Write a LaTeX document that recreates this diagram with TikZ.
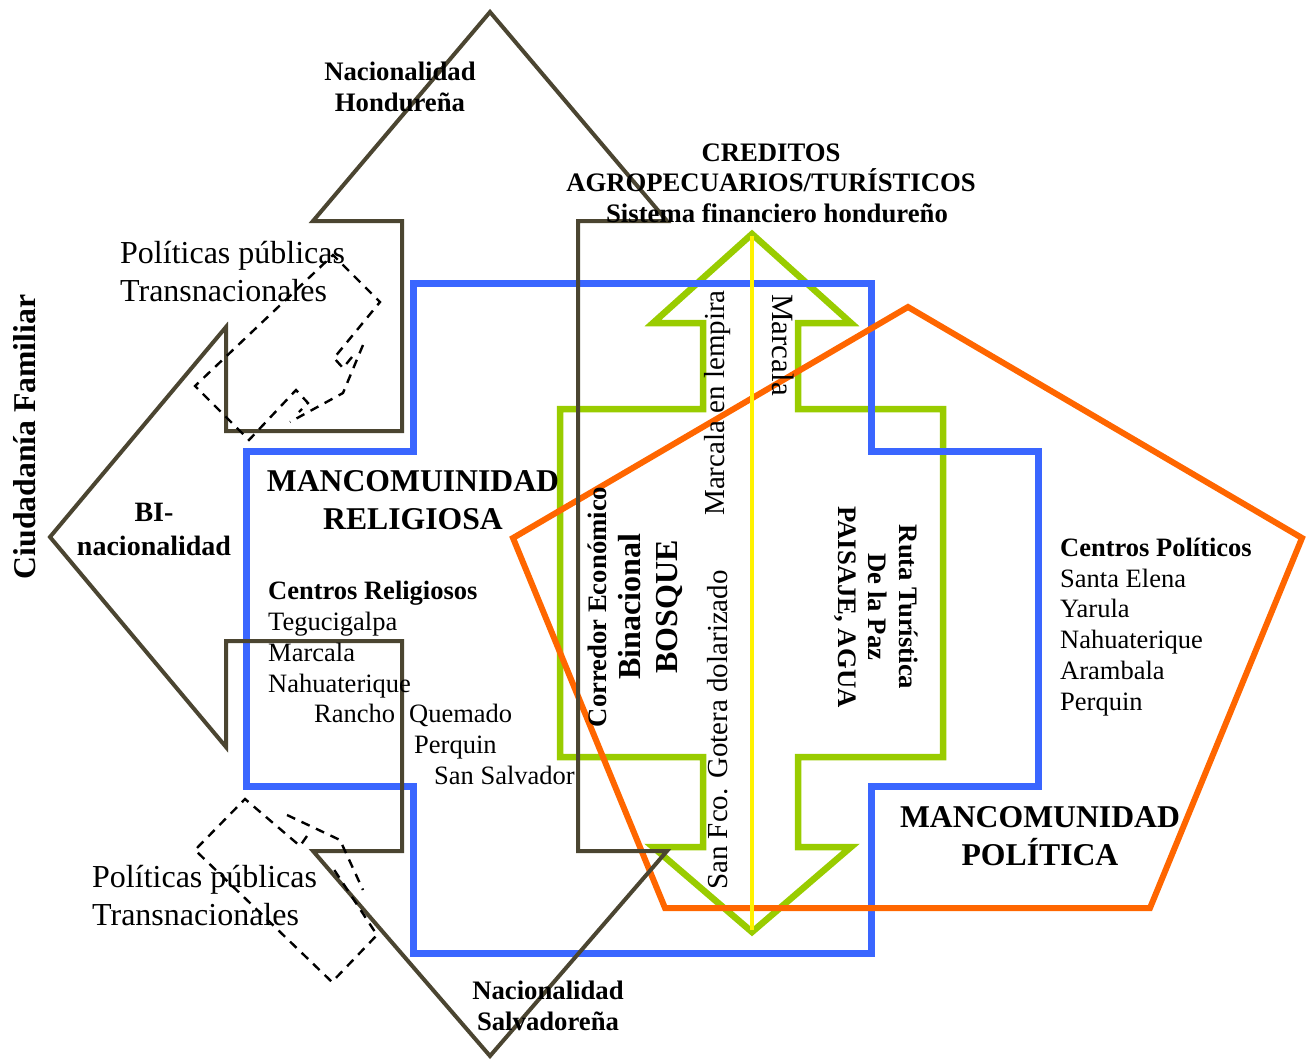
\documentclass[tikz,border=0pt]{standalone}
\usepackage{fontspec}
\setmainfont{Liberation Serif}
\definecolor{nacion}{HTML}{4B4531}
\definecolor{relig}{HTML}{3A66FF}
\definecolor{corredor}{HTML}{99CC00}
\definecolor{polit}{HTML}{FF6600}
\tikzset{nacionline/.style={draw=nacion,line width=4pt},religline/.style={draw=relig,line width=7pt},corrline/.style={draw=corredor,line width=6.5pt},politline/.style={draw=polit,line width=6pt},ejeline/.style={draw=yellow,line width=4.5pt},transline/.style={draw=black,line width=2.4pt,dash pattern=on 9pt off 7pt},txt/.style={inner sep=0pt,font=\fontsize{26.5}{30.8}\selectfont},btxt/.style={inner sep=0pt,font=\fontsize{26.7}{30.5}\selectfont\bfseries},bigtxt/.style={inner sep=0pt,font=\fontsize{31.7}{38}\selectfont\bfseries},poltxt/.style={inner sep=0pt,font=\fontsize{32}{38}\selectfont}}

\begin{document}
\begin{tikzpicture}[x=1pt,y=-1pt]
\useasboundingbox (0,0) rectangle (1307,1060);
% corredor binacional (flecha doble)
\draw[corrline] (752,234) -- (851,323) -- (798,323) -- (798,409) -- (943,409) -- (943,757) -- (798,757) -- (798,847) -- (851,847) -- (752,932) -- (653,847) -- (703,847) -- (703,757) -- (560,757) -- (560,409) -- (703,409) -- (703,323) -- (653,323) -- cycle;
% mancomunidades
\draw[religline] (413,283) -- (871,283) -- (871,451) -- (1038,451) -- (1038,786) -- (871,786) -- (871,953) -- (413,953) -- (413,786) -- (246,786) -- (246,451) -- (413,451) -- cycle;
\draw[politline] (908,307) -- (1302,538) -- (1150,908) -- (665,908) -- (513,538) -- cycle;
\draw[ejeline] (752,236) -- (752,930);
% nacionalidades
\draw[nacionline] (50,537) -- (226,327) -- (226,431) -- (402,431) -- (402,221) -- (313,221) -- (490,12) -- (667,221) -- (578,221) -- (578,851) -- (667,851) -- (490,1056) -- (313,851) -- (402,851) -- (402,641) -- (226,641) -- (226,747) -- cycle;
% politicas publicas
\draw[transline] (352,357) -- (343,368) -- (334,358) -- (380,302) -- (333,255) -- (195,386) -- (249,440) -- (296,390) -- (308,403) -- (299,412);\draw[transline] (363,345) -- (343,393) -- (290,422);
\draw[transline] (307,836) -- (300,846) -- (245,799) -- (195,850) -- (332,982) -- (377,935) -- (333,868);\draw[transline] (287,815) -- (340,840) -- (363,890);
% textos
\node[btxt,align=center] (hond) at (400,87) {Nacionalidad\\Hondureña};
\node[btxt,align=center] (cred) at (771,183) {CREDITOS\\AGROPECUARIOS/TURÍSTICOS\\\hspace*{12pt}Sistema financiero hondureño};
\node[poltxt,align=left,anchor=west] (polA) at (120,272) {Políticas públicas\\Transnacionales};
\node[bigtxt,rotate=90] (ciud) at (25,437) {Ciudadanía Familiar};
\node[btxt,font=\fontsize{28}{34}\selectfont\bfseries,align=center] (binac) at (154,529) {BI-\\nacionalidad};
\node[bigtxt,align=center] (mreli) at (413,500) {MANCOMUINIDAD\\RELIGIOSA};
\node[txt,align=left,anchor=west] (creli) at (268,683) {\textbf{Centros Religiosos}\\Tegucigalpa\\Marcala\\Nahuaterique\\\hspace*{46pt}Rancho\hspace*{14pt}Quemado\\\hspace*{146pt}Perquin\\\hspace*{166pt}San Salvador};
\node[btxt,rotate=90] (corr) at (597,607) {Corredor Económico};
\node[bigtxt,font=\fontsize{32}{37}\selectfont\bfseries,rotate=90,align=center] (bosque) at (650,607) {Binacional\\BOSQUE};
\node[txt,font=\fontsize{29}{33}\selectfont,rotate=90] (lemp) at (718,403) {Marcala en lempira};
\node[txt,font=\fontsize{29}{33}\selectfont,rotate=90] (gotera) at (718,730) {San Fco. Gotera dolarizado};
\node[txt,font=\fontsize{31}{35}\selectfont,rotate=-90] (marc) at (783,345) {Marcala};
\node[btxt,rotate=-90,align=center] (ruta) at (876,607) {Ruta Turística\\De la Paz\\PAISAJE, AGUA};
\node[txt,align=left,anchor=west] (cpol) at (1060,627) {\textbf{Centros Políticos}\\Santa Elena\\Yarula\\Nahuaterique\\Arambala\\Perquin};
\node[bigtxt,align=center] (mpol) at (1040,836) {MANCOMUNIDAD\\POLÍTICA};
\node[poltxt,align=left,anchor=west] (polB) at (92,896) {Políticas públicas\\Transnacionales};
\node[btxt,align=center] (salv) at (548,1006) {Nacionalidad\\Salvadoreña};
\end{tikzpicture}
\end{document}
